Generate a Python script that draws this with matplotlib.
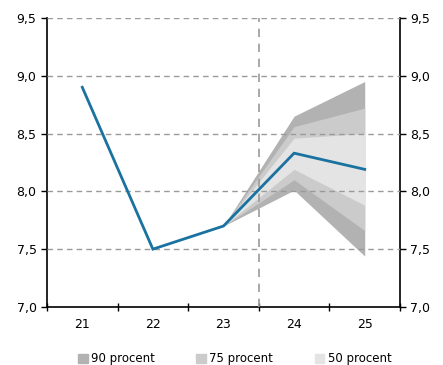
import matplotlib.pyplot as plt
from matplotlib.patches import Patch
import numpy as np

years = ["21", "22", "23", "24", "25"]
central = [8.90, 7.50, 7.70, 8.33, 8.19]

# forecast bands start at the last observed point (23)
band_years_idx = [2, 3, 4]
band90_lo = [7.70, 8.01, 7.44]
band90_hi = [7.70, 8.65, 8.95]
band75_lo = [7.70, 8.10, 7.66]
band75_hi = [7.70, 8.56, 8.72]
band50_lo = [7.70, 8.19, 7.88]
band50_hi = [7.70, 8.46, 8.50]

yticks = [7.0, 7.5, 8.0, 8.5, 9.0, 9.5]
ytick_labels = ["7,0", "7,5", "8,0", "8,5", "9,0", "9,5"]

c90, c75, c50 = "#b2b2b2", "#cbcbcb", "#e4e4e4"
line_color = "#1a72a0"

plt.rcParams["font.family"] = ["DejaVu Sans"]
fig = plt.figure(figsize=(4.43, 3.65), dpi=100)
ax = fig.add_axes([0.106, 0.159, 0.797, 0.792])

x = np.arange(len(years))
bx = x[band_years_idx]
ax.fill_between(bx, band90_lo, band90_hi, color=c90, lw=0, zorder=1)
ax.fill_between(bx, band75_lo, band75_hi, color=c75, lw=0, zorder=2)
ax.fill_between(bx, band50_lo, band50_hi, color=c50, lw=0, zorder=3)

ax.plot(x, central, color=line_color, lw=2, zorder=5, solid_joinstyle="miter")

ax.set_xlim(-0.5, len(years) - 0.5)
ax.set_ylim(7.0, 9.5)

# horizontal dashed grid
for yv in yticks[1:]:
    ax.axhline(yv, color="#9a9a9a", lw=1, ls=(0, (4, 3)), zorder=4)
# separator between history and forecast
ax.axvline(2.5, color="#9a9a9a", lw=1.2, ls=(0, (5, 4)), zorder=4)

ax.set_xticks(x)
ax.set_xticklabels(years, fontsize=9)
ax.set_xticks(np.arange(-0.5, len(years), 1.0), minor=True)
ax.tick_params(axis="x", which="major", length=0, pad=8)
ax.tick_params(axis="x", which="minor", length=6, direction="inout", width=1)

ax.set_yticks(yticks)
ax.set_yticklabels(ytick_labels, fontsize=9)
ax.tick_params(axis="y", which="major", length=4, direction="out", width=1,
               left=True, right=True, labelleft=True, labelright=True)

for side in ["left", "right", "bottom"]:
    ax.spines[side].set_color("black")
    ax.spines[side].set_linewidth(1.2)
ax.spines["top"].set_visible(False)

handles = [Patch(color=c90, label="90 procent"),
           Patch(color=c75, label="75 procent"),
           Patch(color=c50, label="50 procent")]
fig.legend(handles=handles, loc="lower center", bbox_to_anchor=(0.53, -0.03),
           ncol=3, frameon=False, fontsize=8.5, handlelength=0.8,
           handleheight=0.8, handletextpad=0.3, columnspacing=3.5)

fig.savefig("out.png", dpi=100)
